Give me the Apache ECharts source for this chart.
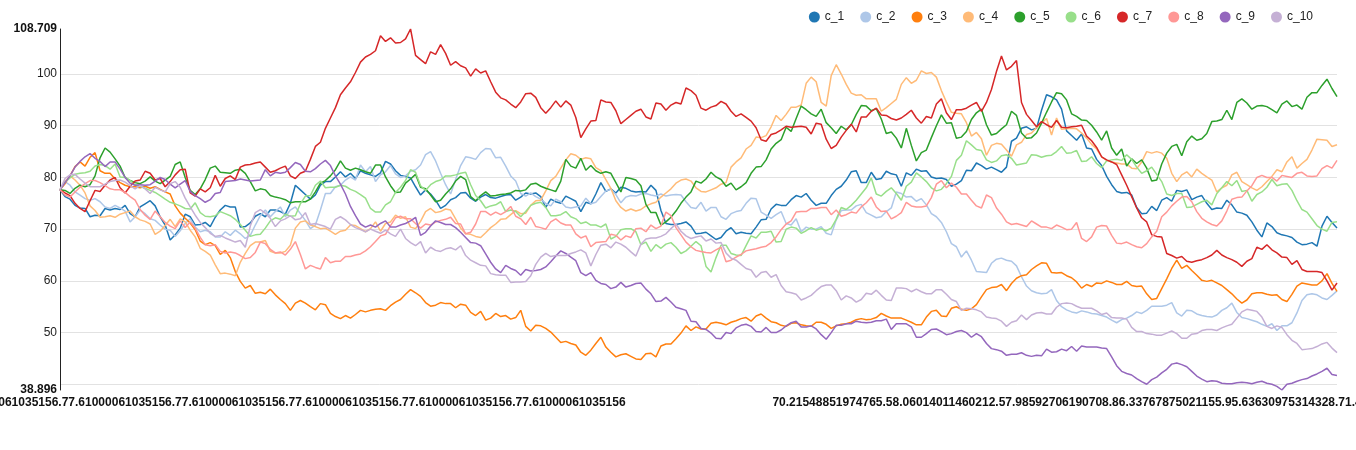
<!DOCTYPE html>
<html>
<head>
  <meta charset="utf-8">
  <title>c_1 - c_10</title>
  <style>
    html, body { margin: 0; padding: 0; background: #fff; }
    #chart { width: 1356px; height: 450px; }
  </style>
</head>
<body>
<div id="chart"></div>
<script src="https://cdn.jsdelivr.net/npm/echarts@6/dist/echarts.min.js"></script>
<script type="text/javascript">
// series names and colours
var names = ['c_1', 'c_2', 'c_3', 'c_4', 'c_5', 'c_6', 'c_7', 'c_8', 'c_9', 'c_10'];
var colors = ['#1f77b4', '#aec7e8', '#ff7f0e', '#ffbb78', '#2ca02c', '#98df8a', '#d62728', '#ff9896', '#9467bd', '#c5b0d5'];

// values, 256 points per series
var c_1 = [
  77.61000061035156, 76.3, 75.8, 74.6, 74.1, 74, 72.4, 72.7, 72.6, 74,
  73.7, 74, 73.8, 74.6, 73, 72.4, 74.3, 74.9, 75.5, 74.5,
  72.4, 70.8, 67.9, 68.9, 70.2, 72.9, 72.4, 70.8, 70.9, 71.3,
  70.5, 72.3, 73.7, 74.6, 74.3, 74.3, 70.4, 70.5, 71.2, 72.5,
  73, 72.4, 73.7, 73.7, 73.4, 72.9, 75, 78.5, 77.6, 76.7,
  75.8, 76.6, 78.5, 79.2, 79.2, 80.1, 81.1, 80.1, 80.8, 79.8,
  81.3, 80.8, 80.5, 80.2, 80.9,
  83.1, 82.6, 81.3, 80.4, 80.2, 79.9, 78.2, 76.6, 77.6, 76.8,
  75.6, 74, 74.6, 75.7, 76.1, 77, 77.1, 76, 75.4, 76.2,
  76.7, 76.1, 76, 76.3, 76.6, 76.7, 75.6, 76.2, 77, 76.8,
  77, 76.3, 74.2, 75.8, 75.3, 75, 76.4, 75.9, 75.4, 73.4,
  75.2, 74.9, 76.8, 79, 77.3, 77.8, 77, 78.1, 77.9, 77.4,
  77.2, 77.3, 77.2, 78.5, 77.5, 73.6, 71.1, 70.9, 70.9, 71.1,
  71.4, 70.6, 69.1, 69.2, 69.4, 68.7,
  68, 68.4, 69.6, 70.3, 69.1, 69.4, 69.2, 69.1, 70.4, 71.8,
  71.9, 73.9, 74.8, 74.6, 74.6, 75.7, 76.5, 76.2, 76.9, 75.6,
  74.6, 75, 75, 76.5, 77.7, 78.3, 79.5, 81.1, 81.3, 79,
  79, 81, 79.6, 79.8, 81.2, 80.7, 80.5, 78.3, 80.9, 80.4,
  81.6, 81.2, 81.3, 80.1, 79.8, 79.9, 79.6, 78.3, 78.7, 79.4,
  81.4, 81.3, 82.8, 82.3, 81.6, 82, 81.5, 81, 82, 87,
  87.6, 89.5, 89.8, 89.2, 89.5, 93,
  96, 95.6, 95, 93.2, 89, 88.1, 87.2, 88.4, 85.7, 85.5,
  83.5, 82.3, 80.2, 78.6, 77.3, 77, 77.1, 76.6, 74.2, 73,
  73.1, 74.4, 73.6, 75.6, 76.1, 75.4, 77.5, 77.3, 77.6, 75.7,
  76.2, 76.5, 75, 73.8, 74.1, 74, 75.6, 74.7, 73.3, 73.1,
  72.7, 71.4, 69.8, 68.5, 71.2, 70.5, 69.3, 68.9, 68.7, 68.4,
  67.5, 67, 67.1, 67.4, 66.7, 70.6, 72.5, 71.3, 70.21548851974765
];
var c_2 = [
  77.61000061035156, 79.2, 78.5, 77.2, 76.6, 75.9, 75.6, 75.9, 75.3, 74.3,
  74, 74.6, 74.1, 73.5, 71.4, 72.4, 73.7, 73, 72, 71.7,
  70.8, 70, 69.8, 68.6, 69.7, 71.1, 72, 70.4, 69.5, 69.8,
  69.5, 68.5, 68.5, 69.5, 68.8, 69.8, 69.1, 68.2, 68.8, 70.8,
  72.6, 73.7, 72.4, 73.4, 74.3, 72.4, 73.7, 74.3, 73, 71.7,
  70.1, 70.8, 73.7, 76.9, 76.9, 78.2, 78.5, 79.5, 80.1, 79.5,
  82.4, 81.1, 82.1, 79.2, 80.5,
  81.1, 82.3, 80.7, 80, 80.3, 81.2, 81.5, 82.4, 84.4, 85,
  83.2, 80.8, 78.6, 76.8, 79.6, 82.3, 84, 83.8, 83.5, 84.8,
  85.6, 85.5, 83.8, 83.9, 82.2, 80.3, 79.3, 76.9, 76.4, 77,
  76.3, 75.8, 75, 74.5, 75.8, 75.3, 74.3, 74.1, 74.3, 74.5,
  76, 74.9, 75.2, 76.3, 77.4, 77.7, 76.7, 75.1, 76.2, 76.5,
  76.4, 76.8, 76.9, 76.6, 76.4, 76.8, 76.4, 76.6, 76.7, 76.6,
  75.3, 74.2, 74, 75.2, 73.5, 74.2,
  74.2, 72.4, 71.9, 73, 73.4, 73.6, 75, 76, 75.9, 73.3,
  72.7, 72.1, 72.8, 73.4, 71.1, 70.8, 72, 69.5, 70.4, 70,
  70, 70.5, 69.2, 68.9, 71.8, 73.6, 73.7, 73.7, 74.5, 74.8,
  73.2, 72.7, 72.2, 72.4, 73.4, 74.1, 77.2, 76.9, 76.2, 76.3,
  75.4, 75.9, 74.7, 73, 72.4, 71.3, 69.5, 67.2, 66.6, 64.6,
  65.8, 64, 61.8, 61.7, 61.6, 63.4, 64.2, 64.4, 64, 63.8,
  62.9, 60.8, 59, 58.1, 57.7, 57.5,
  57.6, 58.3, 56.2, 55, 54.4, 54, 53.8, 54.2, 54, 53.7,
  53.6, 53.3, 53, 52.4, 51.9, 52.5, 52.8, 53.3, 54, 53.7,
  54.3, 55.1, 55.1, 55.1, 55.3, 55.8, 53.8, 53.2, 54.3, 54.2,
  53.6, 53.3, 53.1, 53, 53.4, 54.3, 54.8, 55.7, 53.9, 52.9,
  52.7, 52.4, 52.1, 51.6, 51.2, 51.7, 50.4, 51.3, 51.3, 51.9,
  53.8, 56.2, 57.3, 57.5, 57.3, 56.7, 56.4, 57.2, 58.06014011460212
];
var c_3 = [
  77.61000061035156, 78.8, 80.3, 82.1, 83, 82.2, 83.9, 84.8, 81.3, 80.8,
  80.8, 79.7, 79, 78.5, 78.2, 78.2, 78, 78.3, 77.9, 78.2,
  77.7, 77.2, 76.8, 74.5, 73.1, 72.1, 71.2, 69.9, 67.7, 67,
  67.4, 66.8, 65.1, 65.9, 64.5, 61.8, 59.9, 58.6, 59.1, 57.6,
  57.8, 57.5, 58.4, 57.3, 56.4, 55.6, 54.3, 55.7, 56.2, 55.7,
  55, 54.4, 55.6, 55.4, 53.7, 53.1, 52.7, 53.3, 52.8, 53.5,
  54.3, 54, 54.3, 54.5, 54.6,
  54.3, 55.2, 55.9, 56.4, 57.4, 58.3, 57.7, 57, 55.8, 55.1,
  55.3, 55.8, 55.6, 55.6, 54.8, 55.5, 55.3, 53.9, 53.3, 54.1,
  52.4, 52.8, 53.7, 53.1, 53.3, 52.6, 52.9, 54.3, 51.2, 50.3,
  51.4, 51.3, 50.8, 50.1, 49.1, 48.1, 48.3, 47.9, 47.6, 46.2,
  45.6, 46.6, 47.9, 49.1, 47.2, 46.2, 45.3, 45.7, 45.9, 45.4,
  44.9, 44.8, 45.9, 46, 45.3, 47.4, 47.8, 47.8, 48.8, 49.9,
  51.3, 50.4, 51.1, 50.7, 50.7, 51.8,
  52, 51.8, 51.5, 52, 52.3, 52.7, 52.9, 52.2, 53.2, 53.6,
  52.8, 52.1, 51.9, 51.4, 51.2, 51.8, 51.9, 51.5, 51.3, 51.2,
  52, 52, 51.6, 50.8, 51.3, 51.6, 51.7, 52, 52.5, 52.7,
  52.5, 52.6, 52.9, 53.7, 53.2, 52.8, 52.8, 52.8, 52.4, 52,
  51.5, 51.5, 53, 54.1, 54.3, 53.2, 53.1, 54.7, 55, 54.5,
  54.3, 54.6, 55.4, 56.9, 58.3, 58.7, 58.8, 59.3, 58.1, 59.5,
  60.5, 61, 61.2, 62.2, 62.9, 63.5,
  63.4, 61.6, 61.5, 61.6, 61, 60.6, 59.8, 58.6, 59.3, 58.9,
  59.6, 59.5, 60, 59.7, 59.3, 59.3, 59.9, 59.1, 58.9, 59,
  57.5, 56.4, 56.6, 58.5, 60.4, 62.4, 64, 62.4, 63, 62,
  61.1, 60.1, 59.9, 60.1, 59.6, 59.1, 58.3, 57.5, 56.5, 55.7,
  56.3, 57.5, 57.7, 57.7, 57.4, 57.2, 57.3, 56.4, 56, 57.4,
  59, 59.6, 59.4, 59.2, 59.2, 60, 61.4, 59.5, 57.98592706190708
];
var c_4 = [
  77.61000061035156, 79.2, 80.3, 79.5, 78.5, 77, 74.5, 73.6, 72.3, 72.4,
  72.6, 72.3, 72.9, 73.2, 73.5, 72.4, 71.8, 71.5, 71, 69,
  69.6, 70.7, 71.9, 70.5, 72, 71.4, 69.8, 68.5, 66.3, 65.7,
  65, 63.1, 61.4, 61.5, 61.3, 61, 63.6, 65.3, 66.8, 67.5,
  67.5, 67.8, 65.7, 65.4, 65.4, 65.7, 66.9, 70.2, 71.4, 71.6,
  70.8, 70.5, 70.1, 70.2, 69.6, 69, 69.6, 69.8, 70.8, 70.7,
  70.1, 69.5, 70.1, 71.4, 69.6,
  71.1, 71.4, 72.7, 72.1, 72.4, 70.4, 70.1, 71.5, 73.4, 74,
  73.2, 73.4, 73.9, 73.7, 72, 70.2, 69.1, 69, 68.6, 68.4,
  69.3, 70.3, 71, 71.9, 72, 72.8, 73.6, 73, 73.1, 74.6,
  75.5, 75.6, 77.4, 79.4, 80.2, 81.8, 83.4, 84.6, 84.3, 83.5,
  83.8, 83.6, 81.9, 81.3, 79.6, 77.9, 75.5, 74.2, 73.5, 73.9,
  73.5, 73.8, 74.5, 74.9, 75.2, 76.2, 77, 77.8, 78.9, 79.5,
  79.7, 79.3, 78, 77.3, 77.2, 77.6,
  78, 78.7, 79, 82, 83, 83.8, 85.5, 86.2, 87.8, 87.7,
  88.1, 89.8, 92, 91, 92.2, 93.6, 93.6, 94, 98.2, 99.4,
  98.5, 94.5, 93.8, 99.7, 101.8, 100, 98, 96.3, 95.9, 96,
  95.2, 95.2, 95.2, 92.8, 93.5, 94.3, 95.1, 98, 99.3, 98.2,
  98.8, 100.6, 100.1, 100.3, 99.4, 96.8, 94.6, 92.6, 92.4, 92.3,
  90.6, 88, 88.7, 87.5, 84.3, 86.2, 86.6, 86.4, 85.3, 84.1,
  86.3, 86.8, 88.3, 88.6, 89.6, 90.5,
  91.4, 88.2, 91.5, 89.3, 89.4, 89.5, 89.4, 88.6, 87.6, 86.4,
  85.5, 84, 83.3, 83, 82.8, 82.6, 82.6, 81.8, 81.7, 83,
  85, 84.7, 85, 84.7, 83.7, 80.8, 79.2, 80.5, 81.1, 80.1,
  81.6, 80.8, 80.1, 79.5, 77.2, 78, 78.5, 80.5, 81, 79.2,
  78.6, 78, 77.5, 78.2, 79.2, 80.2, 81.5, 81.1, 83, 84,
  81.8, 82.7, 83.5, 85.3, 87.4, 87.3, 87.2, 86, 86.33767875021155
];
var c_5 = [
  77.61000061035156, 77.5, 76.9, 77.9, 78.5, 78.2, 78.6, 80.3, 83.8, 85.7,
  84.9, 83.6, 82.2, 80, 79.4, 79, 78.8, 79.3, 80.1, 79.3,
  78.8, 79.5, 80.2, 82.5, 83, 80, 77.5, 76.7, 77.8, 79.6,
  81.8, 82.2, 81, 80.9, 80.8, 81.4, 81.6, 80.8, 79.2, 77.4,
  77.8, 77.6, 76.5, 76.2, 76, 75.7, 75.1, 75.3, 75.3, 75.3,
  75.8, 77.2, 78.9, 79.4, 80.3, 81.5, 83.2, 81.8, 81.4, 81.8,
  81.5, 81.1, 80.8, 82.4, 82.4,
  80.1, 78.4, 77.1, 77.2, 78.9, 79.7, 80.6, 78.1, 77.8, 76.6,
  75.3, 75.6, 76.8, 77.8, 79.3, 80.2, 79.6, 76.3, 75.5, 76.5,
  77.2, 76.4, 76.5, 76.7, 76.8, 77, 77.5, 77.4, 77.6, 78.7,
  78.9, 78.3, 77.9, 77.6, 77.3, 79.3, 83.5, 82.2, 81.8, 83.7,
  81.4, 82.3, 81.3, 80.8, 81.1, 80.8, 79, 77.2, 80, 79.8,
  79.5, 78.4, 74.8, 73.2, 73.2, 70.8, 71.4, 72.3, 73.5, 75,
  76.2, 77.2, 79.3, 78.9, 79.7, 81,
  80.1, 79.6, 78.3, 78.9, 77.6, 78.2, 79, 80.8, 82, 82.1,
  83.4, 85.5, 86.6, 87.3, 89.7, 88.9, 91.4, 93.8, 93.1, 92.3,
  91.8, 93.2, 90.6, 89.6, 88.5, 89.9, 89.2, 90.2, 92.2, 93.9,
  93.8, 92.9, 93.3, 91.3, 88.5, 88.8, 87.6, 85.7, 89.5, 86.2,
  83.2, 84.8, 85.3, 87.7, 90, 92.1, 90.5, 90.6, 87.6, 87.8,
  88.9, 91.2, 92.5, 93.2, 90.2, 88.2, 88.5, 89.4, 90.2, 92.8,
  92, 88.6, 87.6, 87.7, 88.6, 90.5,
  92.6, 94.6, 96.4, 96.2, 95, 92.3, 91.8, 91.1, 91, 90.1,
  88.8, 87.2, 89, 85.7, 84.3, 85.5, 82.2, 83.6, 82.7, 83.4,
  81.8, 79.3, 79.5, 82.6, 84.7, 86, 86.4, 84.2, 86.9, 88,
  87.2, 87.5, 88.5, 90.8, 90.9, 91.2, 93, 91.2, 94.5, 95.2,
  94.4, 93.2, 93.8, 93.9, 93.7, 93.1, 92.5, 94.2, 94.8, 93.7,
  94, 93.2, 95.5, 96.4, 96.4, 97.8, 99, 97.2, 95.63630975314328
];
var c_6 = [
  77.61000061035156, 79.1, 79.9, 80.6, 80.8, 80.9, 81.2, 82.2, 82.5, 82.3,
  81.6, 82.6, 80.1, 80, 79.4, 78.6, 78.3, 77.9, 77.5, 77.1,
  76.5, 75.8, 75.2, 74.9, 74.5, 74, 73.9, 75.1, 73.2, 72.5,
  72.4, 72.6, 73.4, 73, 72.6, 71.9, 70.9, 69.8, 68.6, 68.9,
  69, 70.2, 71.6, 72.2, 71.9, 72.9, 72.5, 72.6, 74.9, 76.4,
  76.5, 78.5, 79.3, 78, 78.1, 78.1, 78.5, 78.3, 77.7, 77.3,
  76.7, 76, 74, 73.3, 73.3,
  74.7, 75.3, 77.1, 78.1, 79.4, 81.5, 81, 78.4, 77.5, 78.6,
  79.2, 79.5, 80.3, 80.3, 80.5, 80.8, 81, 78.6, 76.5, 75.5,
  74.1, 74.5, 74.7, 75.3, 73.4, 73.7, 73.4, 72.4, 73.4, 74.6,
  75, 75.2, 74.2, 72.6, 72.6, 72.8, 73.4, 72.4, 72, 71.1,
  71.4, 70.8, 70.8, 70.4, 71, 68.1, 68.6, 69.9, 70.1, 70.1,
  69.5, 67, 67.5, 65.7, 67, 66.3, 67.1, 67.4, 66.5, 65.3,
  65.8, 66.7, 67.6, 66.8, 62.8, 61.7,
  64.5, 66.9, 66.9, 65.3, 65, 64.9, 66.8, 68.7, 68.3, 69.4,
  69.4, 69.6, 67.5, 67.6, 70, 70.4, 70.2, 69.2, 69.7, 70.3,
  69.8, 70.1, 69.7, 70.2, 71.9, 74.2, 73.8, 74.6, 75.6, 76.8,
  78, 79.9, 76.8, 76.4, 77.3, 78, 76.9, 75.6, 78.3, 79.1,
  80.9, 80.1, 79.2, 78, 77.4, 77.7, 78.8, 80.2, 83.3, 84.3,
  87.1, 86.3, 85.4, 85.2, 83.4, 82.9, 83.2, 84.2, 84.4, 83.7,
  82.4, 82.6, 82.8, 84.4, 84.3, 83.9,
  84.2, 84.3, 85, 86, 84.7, 84.8, 85.2, 83.1, 83.2, 84,
  82.7, 81.9, 83.2, 83.4, 83.5, 83.3, 84.4, 83.5, 82, 80.8,
  81.3, 82, 80.6, 79.2, 76.8, 76.5, 76.9, 76.9, 74.2, 74.3,
  74.8, 75.3, 75.6, 74.7, 76.9, 78, 79.2, 78.4, 79.4, 77.3,
  77.5, 75.4, 76.7, 77.2, 78.1, 79.6, 78.4, 78.7, 78.8, 77.5,
  75.5, 73.8, 73.3, 72, 70.7, 70, 69.6, 71.3, 71.41835062275214
];
var c_7 = [
  77.61000061035156, 77, 76.5, 75, 74, 73.4, 75.5, 77.5, 77.3, 78.5,
  79.5, 80, 78, 77, 78.3, 79.3, 79.5, 81.2, 80.8, 79.5,
  79.8, 78.2, 79.2, 80.5, 81.5, 81.6, 77, 76.4, 77.8, 77.2,
  78, 80.4, 78.3, 79.8, 80.3, 79.6, 82, 82.4, 82.5, 82.8,
  83, 82, 81, 81.3, 81.8, 82.2, 80.3, 79.8, 80.8, 81.2,
  83.5, 86, 86.8, 89.5, 91.5, 93.5, 96, 97.3, 98.5, 100.3,
  102.3, 103.3, 103.8, 104.5, 107.4,
  106.3, 107, 106, 106.1, 106.8, 108.709, 103.6, 102.8, 102, 104.3,
  103.8, 105.7, 104, 101.7, 102.4, 101.6, 101.2, 99.6, 101, 100.2,
  100.6, 98.5, 96.5, 95.4, 95, 94.2, 93.5, 94.6, 96.2, 96.3,
  95.5, 93.5, 92.4, 93.5, 94.8, 93.6, 94.8, 94, 91.6, 87.7,
  89.4, 90.9, 91, 95, 94.6, 94.5, 92.9, 90.4, 91.2, 92,
  92.8, 93.2, 91.7, 91.3, 94.4, 94.2, 93, 94, 94.5, 94.2,
  97.3, 96.8, 95.9, 93.4, 93, 93.6,
  93.9, 94.7, 94.2, 92.8, 91.8, 92.3, 91.6, 90.9, 89.6, 87.3,
  87, 88.3, 88.6, 89.2, 89.9, 89.7, 89.8, 89.9, 89.7, 88.4,
  90.5, 90.3, 87.4, 85.6, 86.2, 87.8, 89.1, 90.3, 88.8, 91.7,
  91.7, 92.8, 93.4, 92.1, 92, 91.4, 91.1, 91.5, 92.2, 93,
  91.5, 90.5, 91.8, 91.5, 94.2, 95.2, 92.5, 91.2, 93.1, 93.1,
  93.4, 94, 94.5, 92.8, 94.5, 97, 100.5, 103.5, 100.8, 101.5,
  102.6, 94.5, 92.2, 91, 89.8, 90.8,
  90.2, 89.7, 91, 89.7, 89.6, 89.8, 89.9, 90.1, 88, 87.1,
  85.8, 84, 83.4, 83, 82.5, 80.5, 78.5, 76.3, 74.1, 72.2,
  71.4, 68.9, 68.6, 68.5, 65.3, 64.9, 64.4, 64.7, 63.8, 63.6,
  63.9, 64.1, 64.5, 65, 65.9, 65, 64.5, 64.1, 63.6, 62.8,
  63.8, 64.3, 66.5, 66.1, 67, 66, 65.4, 64.6, 64.5, 63.2,
  63.9, 62.2, 61.8, 61.8, 61.8, 61.6, 60, 58.2, 59.59324317440093
];
var c_8 = [
  77.61000061035156, 76.6, 76.2, 77.2, 78.1, 78.8, 79.4, 79.4, 79, 78.4,
  77.8, 77.6, 77.6, 77.1, 76.3, 75.6, 73.8, 72.7, 71.9, 73.5,
  72.4, 71.3, 70.6, 70.1, 71.6, 70.3, 71.4, 70.2, 68.4, 67,
  66.8, 67, 65.7, 65.4, 65.6, 65.4, 64.9, 64.3, 64.5, 65.5,
  67.5, 67.2, 66.1, 65.4, 65.6, 65, 66.1, 67.6, 65.1, 62.3,
  63, 62.6, 62.3, 64.5, 63.5, 63.8, 63.8, 64.7, 64.7, 65,
  65.2, 65.8, 66.6, 67.6, 68.7,
  69, 70.7, 72.2, 72.5, 72, 72, 71.1, 70.2, 71, 70.8,
  71.4, 71.7, 71.9, 72.3, 71.1, 71, 69.1, 69.4, 71, 73.4,
  73.4, 72.7, 73.3, 72.8, 73.4, 74.4, 72.5, 72, 70.9, 72.3,
  70.5, 70.3, 70, 71.4, 72, 71.2, 70.8, 70.8, 69.1, 68.3,
  68.7, 66.6, 67.4, 67.5, 67.6, 69, 68.8, 67.9, 68.7, 68.4,
  70.1, 70.2, 69.5, 70.8, 70.1, 70.6, 73.3, 72.6, 70.3, 68.9,
  67.5, 66.6, 65.9, 65.7, 65.5, 65.4,
  66, 66.5, 63.7, 64, 64.6, 65.1, 65.8, 66, 66.2, 66.5,
  66.7, 67.4, 68.5, 69.9, 71, 71.6, 73.3, 73.4, 73.4, 74,
  74, 74.2, 74.2, 72.8, 73.7, 72.5, 72.8, 73.3, 73.1, 74.3,
  75.1, 76.2, 74.3, 73.4, 73.5, 72, 72.5, 73.2, 75.2, 74.5,
  74.3, 74.3, 74.5, 76.1, 78.7, 79.4, 78, 78.9, 78.1, 76.8,
  76.8, 75.6, 74.5, 74.1, 76.6, 76.1, 74.1, 72.9, 71.4, 70.9,
  71.1, 70.8, 70.5, 71.6, 71, 70.4,
  70.4, 70.1, 70.8, 70.4, 69.9, 70, 71.3, 68.2, 67.6, 68.5,
  70.4, 70.7, 70.6, 68.8, 67.3, 67.2, 67.5, 67, 66.6, 66.4,
  67.2, 68.5, 69.6, 72.4, 73.3, 74.5, 75.4, 76.2, 76.3, 75.3,
  73.4, 72.1, 71.4, 70.9, 70.6, 71.6, 73.5, 75.8, 76.1, 76.2,
  77.4, 78.4, 80, 80.4, 80, 80, 79.3, 80.4, 80.2, 80,
  80.8, 81, 80.3, 80.2, 80.3, 81.7, 82.3, 81.8, 83.31702586784244
];
var c_9 = [
  77.61000061035156, 79, 80.3, 82, 83.1, 84, 84.6, 83.7, 83.1, 82.1,
  83, 83, 81.6, 80, 78.9, 78.5, 78.6, 78.5, 78.6, 79.3,
  80, 79.6, 78.7, 78, 78.7, 79.4, 77.3, 76.5, 75.9, 75.2,
  75.7, 76.9, 77.1, 79.2, 79.3, 79.4, 79.7, 79.5, 79.3, 79.4,
  79.5, 81.5, 80.3, 81, 80.8, 81, 81.9, 82.9, 82.5, 81.2,
  81.1, 81.7, 82.6, 83.3, 82.3, 80.3, 78.7, 76.8, 74.4, 72.6,
  71, 70.4, 70.8, 70.4, 71.1,
  71.6, 70.4, 70.4, 70.8, 71.1, 71.6, 72.3, 68.8, 69.4, 70.6,
  71.6, 71.3, 70.9, 70.9, 70.3, 69.4, 68.4, 67.4, 67.3, 66.8,
  65.2, 63.6, 62.3, 61.6, 63, 62.4, 62, 61.1, 62.2, 61.9,
  62, 62.2, 62.7, 63.7, 64.8, 65.8, 65.3, 64.6, 63.9, 61.6,
  61, 61.6, 60.1, 59.5, 59.3, 58.5, 58.8, 59.7, 58.8, 59.1,
  59.5, 59.6, 58.4, 57.5, 56, 56.1, 56.8, 55.9, 54.9, 54.6,
  54.3, 52.2, 52.1, 50.8, 50.6, 49.9,
  48.9, 48.8, 50, 49.8, 50.9, 51.4, 51.6, 51.2, 50.2, 50.1,
  51, 50, 50, 50.5, 51.3, 51.9, 52.2, 51.1, 51.1, 51.3,
  50.7, 49.6, 48.7, 50, 51.4, 51.4, 51.7, 51.7, 52.2, 52,
  51.9, 52, 52.3, 52.3, 52.6, 50.6, 51.7, 51.7, 51.7, 51.1,
  49.1, 49.1, 49.8, 50.6, 50.7, 50.2, 49.6, 49.8, 50.2, 50.4,
  50, 49.1, 49.8, 49.2, 47.9, 46.9, 46.7, 46.4, 45.6, 45.8,
  45.8, 46.1, 45.6, 45.4, 45.6, 45.5,
  46.8, 46.2, 46.3, 46.8, 46.5, 47.3, 46.4, 47.4, 47.2, 47.2,
  47.2, 47, 46.9, 45.3, 43.6, 42.5, 42.1, 41.8, 41.1, 40.5,
  40, 40.9, 41.4, 42.2, 42.9, 43.9, 44.1, 43.8, 43.4, 42.5,
  41.6, 41, 40.5, 40.7, 40.6, 40.2, 40.1, 40.1, 40.3, 40.4,
  40.3, 40.1, 40.4, 40.6, 40.2, 40, 39.6, 38.896, 40, 40.2,
  40.6, 40.9, 41.1, 41.6, 42, 42.5, 43.1, 41.9, 41.70398264523419
];
var c_10 = [
  77.61000061035156, 79.8, 80.5, 80.6, 79.7, 78.9, 78.2, 78.2, 78.2, 78.7,
  79.2, 79.4, 79.5, 79.1, 78.4, 77.8, 78.4, 77.8, 76.9, 78.1,
  77.6, 77.2, 78.8, 79.2, 78.1, 76, 74.3, 72.7, 71.3, 70.3,
  69.2, 68.6, 68.8, 68.3, 67.9, 67.5, 67.8, 66.5, 70.6, 73.2,
  73.8, 73.1, 72.1, 70.5, 71.6, 72, 72.6, 71.8, 72, 73.2,
  70.9, 71.1, 70.8, 70.5, 70, 71.9, 72.4, 71.8, 70.9, 70.3,
  69.9, 69.5, 70, 69.6, 69.2,
  69.8, 69.1, 68.6, 70, 68.2, 67.4, 66.8, 67.6, 65.4, 66.5,
  65.9, 65.7, 66.2, 66.4, 66, 66.8, 64.9, 64, 63.5, 63,
  62.9, 61.4, 61.2, 61.1, 61.1, 59.7, 59.8, 59.8, 59.9, 61,
  63.2, 64.6, 65.3, 64.7, 64.9, 64.9, 64.9, 65.3, 65.6, 66,
  65.4, 62.9, 65.1, 66.9, 67.1, 66.4, 67.5, 67.1, 66.5, 65.6,
  64.8, 67.1, 68.1, 68.3, 68.3, 68.6, 69.1, 70.1, 71, 69.6,
  68.7, 68.2, 68.5, 68.7, 67.7, 68.1,
  67.3, 67.4, 65.4, 64.4, 64, 63.2, 62.4, 62.1, 60.7, 61.6,
  61.8, 60.7, 61.2, 59.1, 57.9, 57.7, 57.4, 56.3, 56.7, 57.2,
  58.1, 58.9, 59.2, 59.2, 58.1, 56.3, 57.1, 56.7, 55.9, 56.4,
  57.6, 57.4, 58.2, 57.2, 56.3, 56.2, 58.6, 58.6, 58.5, 57.9,
  58.4, 57.9, 57.5, 57.5, 58.3, 58.3, 57.4, 56.4, 56, 54.3,
  54.7, 54.6, 54.4, 54, 53, 52.8, 52.7, 52.2, 51.2, 52,
  52.3, 53.4, 52.5, 53.4, 53.8, 53.9,
  53.6, 53.6, 54.9, 55.6, 55.7, 55.6, 55.1, 54.7, 54.7, 54.7,
  54.2, 53.5, 53.8, 52.9, 52.8, 52.8, 52.6, 51, 50.2, 50.2,
  49.8, 49.7, 49.5, 49.5, 49.9, 50.3, 49.8, 48.9, 48.9, 49.7,
  49.8, 50.4, 50.6, 50.6, 50.4, 50.9, 51.3, 51.6, 52.8, 54,
  54.5, 54.3, 54.1, 53, 51.2, 50.8, 51.3, 51, 49.6, 48.5,
  47.9, 46.7, 46.8, 46.9, 47.3, 47.8, 48.1, 47, 46.11548903278656
];

var allSeries = [c_1, c_2, c_3, c_4, c_5, c_6, c_7, c_8, c_9, c_10];

// each category is the row of all values at that point, printed as text
var pointCount = c_1.length;
var xLabels = [];
for (var i = 0; i < pointCount; i++) {
  xLabels.push(allSeries.map(function (s) { return String(s[i]); }).join('.'));
}

// the y axis runs exactly from the data minimum to the data maximum
var yMin = Infinity, yMax = -Infinity;
allSeries.forEach(function (s) {
  s.forEach(function (v) {
    if (v < yMin) yMin = v;
    if (v > yMax) yMax = v;
  });
});

var myChart = echarts.init(document.getElementById('chart'));

myChart.setOption({
  animation: false,
  backgroundColor: '#fff',
  color: colors,
  textStyle: { fontFamily: 'Liberation Sans, Arial, sans-serif' },
  legend: {
    data: names,
    right: 38,
    top: 6,
    icon: 'circle',
    itemWidth: 11,
    itemHeight: 11,
    itemGap: 16,
    textStyle: { color: '#222', fontSize: 12 }
  },
  grid: {
    left: 60,
    right: 19,
    top: 29,
    bottom: 60,
    containLabel: false,
    outerBoundsMode: 'none'
  },
  xAxis: {
    type: 'category',
    boundaryGap: false,
    data: xLabels,
    axisLine: { show: false },
    axisTick: { show: false },
    splitLine: { show: false },
    axisLabel: {
      interval: function (index) { return index === 0 || index === pointCount - 1; },
      margin: 7,
      color: '#111',
      fontSize: 12,
      fontWeight: 'bold'
    }
  },
  yAxis: {
    type: 'value',
    min: yMin,
    max: yMax,
    splitNumber: 7,
    axisLine: { show: true, lineStyle: { color: '#222', width: 1 } },
    axisTick: { show: false },
    splitLine: { show: true, showMinLine: false, showMaxLine: false, lineStyle: { color: '#e2e2e2' } },
    axisLabel: {
      margin: 3,
      color: '#222',
      fontSize: 12,
      showMinLabel: true,
      showMaxLabel: true,
      formatter: function (v) {
        if (Math.abs(v - yMin) < 1e-9 || Math.abs(v - yMax) < 1e-9) {
          return '{b|' + v + '}';
        }
        // a round tick too close to an end value is left blank
        if (v - yMin < 5 || yMax - v < 5) return '';
        return String(v);
      },
      rich: {
        b: { fontWeight: 'bold', fontSize: 12, color: '#111' }
      }
    }
  },
  series: names.map(function (name, k) {
    return {
      name: name,
      type: 'line',
      data: allSeries[k],
      showSymbol: false,
      symbol: 'none',
      lineStyle: { width: 1.5 },
      emphasis: { disabled: true }
    };
  })
});
</script>
</body>
</html>
